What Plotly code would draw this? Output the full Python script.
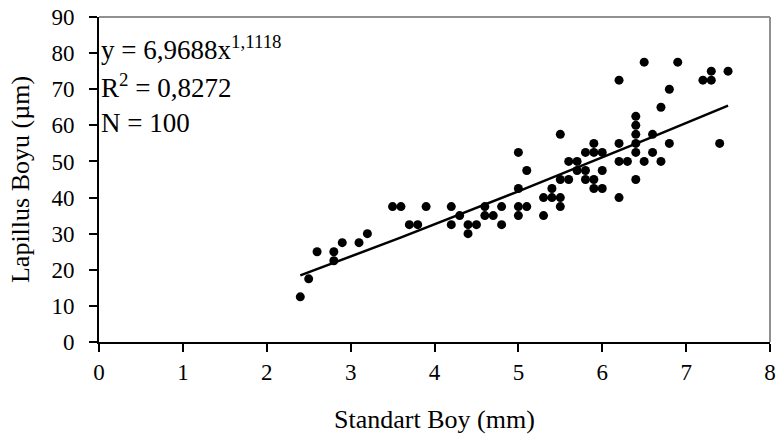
import numpy as np
import plotly.graph_objects as go

# standard length (mm) vs lapillus length (um)
standart_boy = [
    2.4, 2.5, 2.6, 2.8, 2.8, 2.9, 3.1, 3.2, 3.5, 3.6, 3.9, 4.2, 3.7, 3.8, 4.2,
    4.3, 4.4, 4.5, 4.4, 4.8,
    6.5, 6.9, 6.2, 7.2, 7.3, 7.3, 7.5, 6.8, 6.7, 6.4, 6.4, 6.4, 5.5, 6.6,
    5.9, 6.2, 6.4, 6.8, 7.4, 5.0, 5.8, 5.9, 6.0, 6.4, 6.6,
    5.6, 5.7, 6.2, 6.3, 6.5, 6.7, 5.1, 5.7, 5.8, 6.0,
    5.5, 5.6, 5.8, 5.9, 6.4, 5.9, 6.0, 5.0, 5.4,
    5.3, 5.4, 5.5, 6.2, 4.6, 4.8, 5.0, 5.1, 5.5, 4.6, 4.7, 5.0, 5.3,
]
lapillus_boyu = [
    12.5, 17.5, 25, 25, 22.5, 27.5, 27.5, 30, 37.5, 37.5, 37.5, 37.5, 32.5, 32.5, 32.5,
    35, 32.5, 32.5, 30, 32.5,
    77.5, 77.5, 72.5, 72.5, 72.5, 75, 75, 70, 65, 62.5, 60, 57.5, 57.5, 57.5,
    55, 55, 55, 55, 55, 52.5, 52.5, 52.5, 52.5, 52.5, 52.5,
    50, 50, 50, 50, 50, 50, 47.5, 47.5, 47.5, 47.5,
    45, 45, 45, 45, 45, 42.5, 42.5, 42.5, 42.5,
    40, 40, 40, 40, 37.5, 37.5, 37.5, 37.5, 37.5, 35, 35, 35, 35,
]

# power trend fit shown on the chart
fit_a = 6.9688
fit_b = 1.1118

xs = np.array(standart_boy)
trend_x = np.linspace(xs.min(), xs.max(), 60)
trend_y = fit_a * trend_x ** fit_b

serif = "Liberation Serif, Times New Roman, serif"

fig = go.Figure()
fig.add_trace(go.Scatter(
    x=standart_boy, y=lapillus_boyu, mode="markers",
    marker=dict(color="black", size=9), showlegend=False, hoverinfo="skip",
))
fig.add_trace(go.Scatter(
    x=trend_x, y=trend_y, mode="lines",
    line=dict(color="black", width=2.5), showlegend=False, hoverinfo="skip",
))

axis_common = dict(
    showgrid=False, zeroline=False, showline=True, linecolor="black", linewidth=2,
    ticks="outside", ticklen=8, tickwidth=2, tickcolor="black", automargin=False,
    tickfont=dict(family=serif, size=23, color="black"),
)
fig.update_xaxes(range=[0, 8], dtick=1, title=dict(text="Standart Boy (mm)", standoff=26,
                 font=dict(family=serif, size=26, color="black")), **axis_common)
fig.update_yaxes(range=[0, 90], dtick=10, ticklabelstandoff=10,
                 title=dict(text="Lapillus Boyu (µm)", standoff=14,
                            font=dict(family=serif, size=26, color="black")), **axis_common)

# grey frame on top and right
fig.add_shape(type="line", xref="paper", yref="paper", x0=0, x1=1, y0=1, y1=1,
              line=dict(color="#909090", width=2))
fig.add_shape(type="line", xref="paper", yref="paper", x0=1, x1=1, y0=0, y1=1,
              line=dict(color="#909090", width=2))

labels = [
    "y = 6,9688x<sup>1,1118</sup>",
    "R<sup>2</sup> = 0,8272",
    "N = 100",
]
for i, txt in enumerate(labels):
    fig.add_annotation(
        x=0.0, y=81.4 - i * 10.4, xref="paper", yref="y", text=txt, showarrow=False,
        xanchor="left", yanchor="middle", font=dict(family=serif, size=27, color="black"),
    )

fig.update_layout(
    width=781, height=441,
    margin=dict(l=99, r=11, t=17, b=99),
    paper_bgcolor="white", plot_bgcolor="white",
)

# drop the default 8px page margin so the chart fills the window
fig.write_html("out.html", config={"displayModeBar": False},
               post_script="document.body.style.margin='0';")
